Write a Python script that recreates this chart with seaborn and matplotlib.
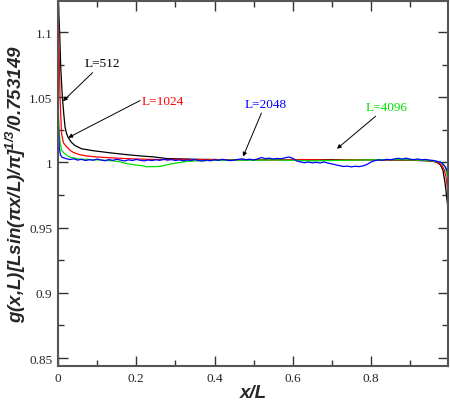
import pandas as pd
import numpy as np
import matplotlib
matplotlib.use("Agg")
import matplotlib.pyplot as plt
import seaborn as sns
from matplotlib.ticker import MultipleLocator, FormatStrFormatter

# data
x_512 = [0, 0.002, 0.004, 0.007, 0.011, 0.015, 0.018, 0.022, 0.026, 0.034, 0.043, 0.06, 0.09,
         0.13, 0.175, 0.21, 0.243, 0.278, 0.32, 0.36, 0.4, 0.45, 0.5, 0.55, 0.6, 0.65, 0.7,
         0.75, 0.8, 0.85, 0.9, 0.94, 0.96, 0.97, 0.978, 0.984, 0.989, 0.992, 0.994, 0.997]
g_512 = [1.13, 1.115, 1.1, 1.072, 1.05, 1.036, 1.027, 1.022, 1.019, 1.0155, 1.013, 1.0105, 1.009,
         1.0075, 1.006, 1.005, 1.0043, 1.003, 1.0027, 1.0024, 1.0022, 1.0021, 1.002, 1.0023, 1.0021,
         1.0019, 1.0022, 1.002, 1.0021, 1.0019, 1.0017, 1.0013, 1.0008, 0.9998, 0.998, 0.994,
         0.985, 0.978, 0.972, 0.965]

x_1024 = [0, 0.002, 0.005, 0.009, 0.014, 0.022, 0.03, 0.039, 0.055, 0.073, 0.1, 0.133, 0.17,
          0.218, 0.26, 0.3, 0.35, 0.4, 0.45, 0.5, 0.55, 0.6, 0.65, 0.7, 0.75, 0.8, 0.85, 0.9,
          0.94, 0.96, 0.972, 0.981, 0.987, 0.991, 0.994, 0.997]
g_1024 = [1.12, 1.1, 1.05, 1.022, 1.015, 1.012, 1.0095, 1.0077, 1.006, 1.005, 1.0042, 1.0036, 1.003,
          1.0025, 1.0022, 1.0024, 1.0021, 1.0023, 1.002, 1.0022, 1.0019, 1.0023, 1.0021, 1.0018,
          1.0022, 1.002, 1.0019, 1.0018, 1.0015, 1.001, 1.0, 0.998, 0.9945, 0.99, 0.984, 0.976]

x_2048 = [0, 0.001, 0.003, 0.006, 0.01, 0.015, 0.02,
          0.03, 0.04, 0.05, 0.06, 0.07, 0.08, 0.09, 0.10, 0.11, 0.12, 0.13, 0.14, 0.15, 0.16,
          0.17, 0.18, 0.19, 0.20, 0.21, 0.22, 0.23, 0.24, 0.25, 0.26, 0.27, 0.28, 0.29, 0.30,
          0.31, 0.32, 0.33, 0.34, 0.35, 0.36, 0.37, 0.38, 0.39, 0.40, 0.41, 0.42, 0.43, 0.44,
          0.45, 0.46, 0.47, 0.48, 0.49, 0.50, 0.51, 0.52, 0.53, 0.54, 0.55, 0.56, 0.57, 0.58,
          0.59, 0.60, 0.61, 0.62, 0.63, 0.64, 0.65, 0.66, 0.67, 0.68, 0.69, 0.70, 0.71, 0.72,
          0.73, 0.74, 0.75, 0.76, 0.77, 0.78, 0.79, 0.80, 0.81, 0.82, 0.83, 0.84, 0.85, 0.86,
          0.87, 0.88, 0.89, 0.90, 0.91, 0.92, 0.93, 0.94, 0.95, 0.96, 0.97, 0.98, 0.985, 0.99,
          0.994, 0.997]
g_2048 = [1.045, 1.03, 1.012, 1.006, 1.004, 1.0035, 1.003,
          1.0022, 1.0028, 1.0018, 1.0024, 1.0015, 1.0021, 1.0017, 1.0026, 1.0019, 1.0013, 1.0022,
          1.0016, 1.0024, 1.0018, 1.0011, 1.002, 1.0015, 1.0023, 1.0017, 1.0012, 1.0019, 1.0014,
          1.0021, 1.0016, 1.0024, 1.0018, 1.0022, 1.0015, 1.002, 1.0013, 1.0019, 1.0016, 1.0022,
          1.0014, 1.0011, 1.0018, 1.0013, 1.0021, 1.0016, 1.0024, 1.0019, 1.0014, 1.0018, 1.0023,
          1.0028, 1.0021, 1.0025, 1.0019, 1.0027, 1.0038, 1.0029, 1.0033, 1.0026, 1.0031, 1.0028,
          1.0035, 1.0042, 1.0032, 1.0012, 1.0004, 0.9998, 1.0003, 0.9997, 1.0001, 0.9996, 1.0004,
          0.9995, 0.9989, 0.9982, 0.9975, 0.9969, 0.9972, 0.9966, 0.9971, 0.9968, 0.9974, 0.9985,
          1.0003, 1.0014, 1.002, 1.0017, 1.0024, 1.0021, 1.0027, 1.0032, 1.0026, 1.0033, 1.0025,
          1.0022, 1.0027, 1.002, 1.0023, 1.0018, 1.0015, 1.0008, 1.0, 0.9985, 0.9968, 0.994, 0.992]

x_4096 = [0, 0.001, 0.003, 0.006, 0.009, 0.014, 0.022, 0.031, 0.056, 0.085, 0.115, 0.14, 0.158,
          0.17, 0.184, 0.2, 0.215, 0.227, 0.245, 0.261, 0.275, 0.286, 0.3, 0.312, 0.33, 0.36,
          0.4, 0.45, 0.5, 0.55, 0.6, 0.65, 0.7, 0.75, 0.8, 0.85, 0.9, 0.94, 0.96, 0.975, 0.984,
          0.99, 0.994, 0.997]
g_4096 = [1.06, 1.04, 1.022, 1.014, 1.0096, 1.0075, 1.0056, 1.004, 1.0025, 1.0022, 1.0018, 1.0012,
          1.0005, 0.9995, 0.9987, 0.998, 0.9975, 0.9967, 0.9968, 0.997, 0.998, 0.9987, 0.9994, 1.0,
          1.0008, 1.0013, 1.0016, 1.0018, 1.0017, 1.002, 1.0016, 1.0012, 1.0015, 1.0018, 1.002,
          1.0022, 1.002, 1.0017, 1.0012, 1.0004, 0.999, 0.996, 0.991, 0.987]

sizes = ["512", "1024", "2048", "4096"]
colors = ["black", "red", "blue", "#00e000"]
order = ["512", "1024", "4096", "2048"]  # blue drawn last

frames = []
for L, xs, gs in [("512", x_512, g_512), ("1024", x_1024, g_1024),
                  ("4096", x_4096, g_4096), ("2048", x_2048, g_2048)]:
    frames.append(pd.DataFrame({"x": xs, "g": gs, "L": L}))
df = pd.concat(frames, ignore_index=True)

sns.set_style("ticks")
plt.rcParams["mathtext.default"] = "regular"

fig = plt.figure(figsize=(4.5, 4.02), dpi=100)
ax = fig.add_axes([0.129, 0.087, 0.8666, 0.908])

sns.lineplot(data=df, x="x", y="g", hue="L", hue_order=order,
             palette=dict(zip(sizes, colors)), estimator=None, sort=False,
             legend=False, linewidth=0.9, ax=ax)

ax.set_xlim(0, 0.997)
ax.set_ylim(0.8439, 1.1238)
ax.xaxis.set_major_locator(MultipleLocator(0.2))
ax.xaxis.set_minor_locator(MultipleLocator(0.1))
ax.yaxis.set_major_locator(MultipleLocator(0.05))
ax.yaxis.set_minor_locator(MultipleLocator(0.025))
ax.xaxis.set_major_formatter(FormatStrFormatter("%g"))
ax.yaxis.set_major_formatter(FormatStrFormatter("%g"))
ax.tick_params(which="both", direction="in", top=True, right=True, color="#333333", width=1.0)
ax.tick_params(which="major", length=7, labelsize=9.5, pad=4)
ax.tick_params(which="minor", length=4)
for lab in ax.get_xticklabels() + ax.get_yticklabels():
    lab.set_fontfamily("Liberation Serif")
for s in ax.spines.values():
    s.set_color("#555555")
    s.set_linewidth(1.5)

ax.set_xlabel("x/L", fontfamily="Liberation Sans", fontweight="bold", fontstyle="italic",
              fontsize=13.5, labelpad=0)
ax.set_ylabel("g(x,L)[Lsin(πx/L)/π]$^{1/3}$/0.753149", fontfamily="Liberation Sans",
              fontweight="bold", fontstyle="italic", fontsize=13.5, labelpad=1)

arrow = dict(arrowstyle="-|>", color="black", lw=0.7, mutation_scale=6, shrinkA=0, shrinkB=0)
tfont = dict(fontfamily="Liberation Serif", fontsize=9.5, ha="center", va="center")
ax.annotate("L=512", xy=(0.0125, 1.047), xytext=(0.113, 1.076), arrowprops=arrow, color="black", **tfont)
ax.annotate("", xy=(0.026, 1.019), xytext=(0.21, 1.0475), arrowprops=arrow)
ax.text(0.268, 1.0475, "L=1024", color="red", **tfont)
ax.annotate("L=2048", xy=(0.473, 1.0045), xytext=(0.53, 1.045), arrowprops=arrow, color="blue", **tfont)
ax.annotate("L=4096", xy=(0.713, 1.0105), xytext=(0.84, 1.0425), arrowprops=arrow, color="#00e000", **tfont)

plt.savefig("out.png", dpi=100)
